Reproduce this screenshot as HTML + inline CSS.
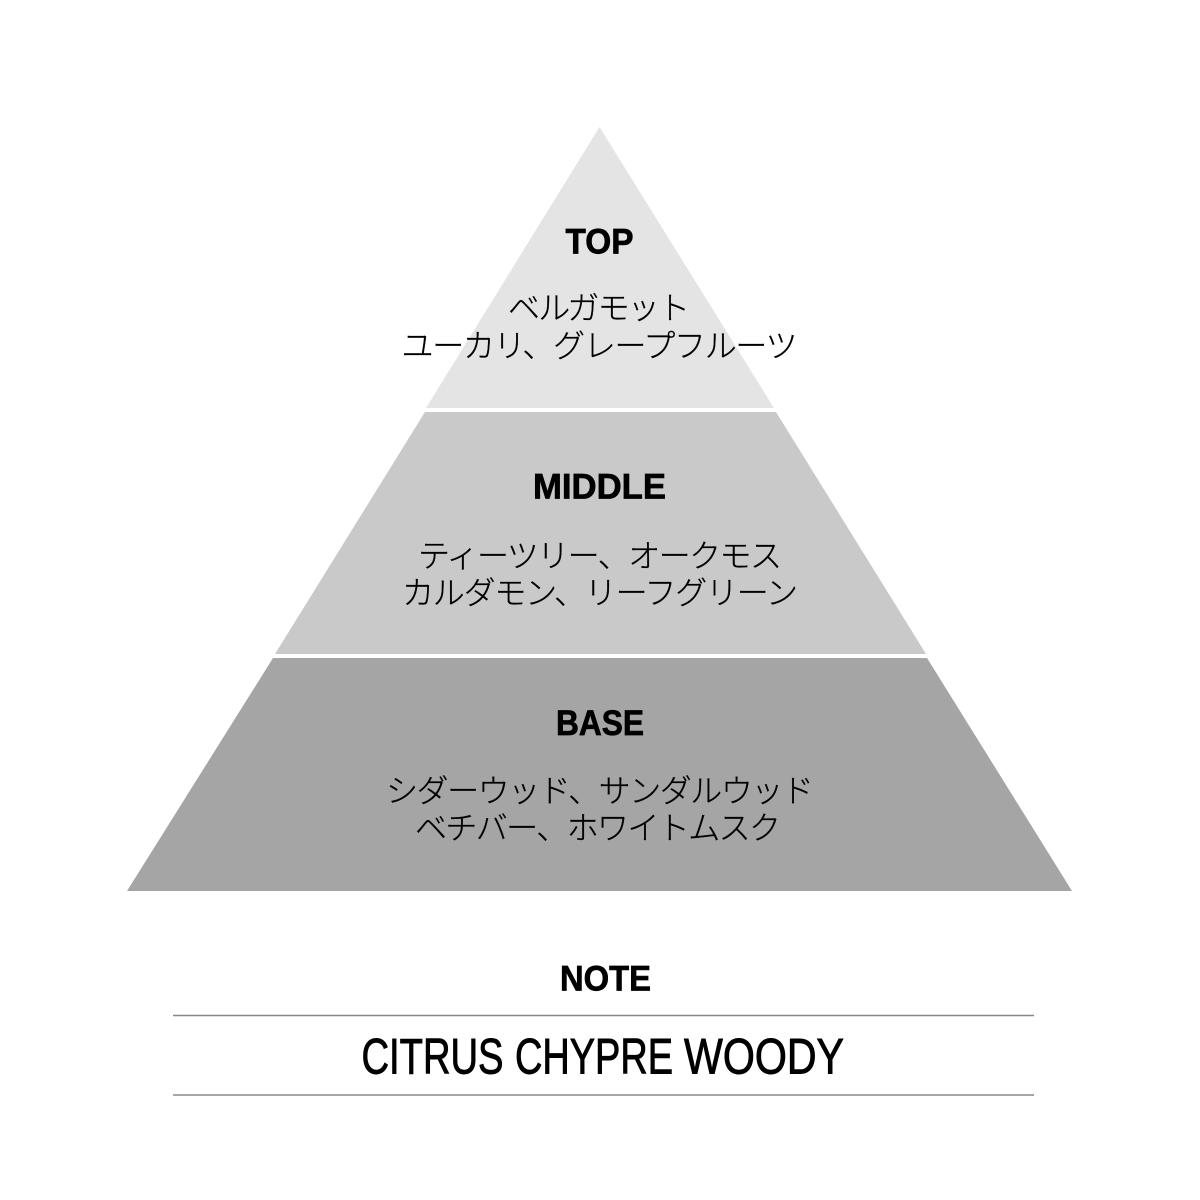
<!DOCTYPE html>
<html><head><meta charset="utf-8"><style>
html,body{margin:0;padding:0;background:#fff;width:1200px;height:1200px;overflow:hidden}
svg{display:block}
text{text-anchor:middle;fill:#000}
.h{font-family:"Liberation Sans",sans-serif;font-weight:700;font-size:35px;stroke:#000;stroke-width:.7}
.j{font-family:"Liberation Sans","Noto Sans CJK JP",sans-serif;font-size:32px;font-weight:300;fill:#000;stroke:#000;stroke-width:.25}
.c{font-family:"Liberation Sans",sans-serif;font-size:50px;font-weight:400;stroke:#000;stroke-width:.9}
</style></head><body>
<svg width="1200" height="1200" viewBox="0 0 1200 1200" xmlns="http://www.w3.org/2000/svg">
<rect width="1200" height="1200" fill="#fff"/>
<polygon points="599.5,127 774,408 426,408" fill="#e4e4e4"/>
<polygon points="425,412 776,412 926,654 275,654" fill="#c9c9c9"/>
<polygon points="273,658 927,658 1072,891 127,891" fill="#a5a5a5"/>
<text class="h" x="599.5" y="253.5" textLength="68" lengthAdjust="spacingAndGlyphs">TOP</text>
<text class="j" x="599" y="319" textLength="182">ベルガモット</text>
<text class="j" x="599.5" y="357" textLength="396">ユーカリ、グレープフルーツ</text>
<text class="h" x="599.5" y="498.5" textLength="133" lengthAdjust="spacingAndGlyphs">MIDDLE</text>
<text class="j" x="600" y="567" textLength="364">ティーツリー、オークモス</text>
<text class="j" x="600" y="604" textLength="396">カルダモン、リーフグリーン</text>
<text class="h" x="600" y="735" textLength="88" lengthAdjust="spacingAndGlyphs">BASE</text>
<text class="j" x="600" y="802" textLength="428">シダーウッド、サンダルウッド</text>
<text class="j" x="598" y="839" textLength="366">ベチバー、ホワイトムスク</text>
<text class="h" x="605.5" y="990.5" textLength="91" lengthAdjust="spacingAndGlyphs">NOTE</text>
<line x1="173" y1="1015.5" x2="1034" y2="1015.5" stroke="#888" stroke-width="1.5"/>
<text class="c" x="432.5" y="1073.5" textLength="142" lengthAdjust="spacingAndGlyphs">CITRUS</text>
<text class="c" x="594" y="1073.5" textLength="158" lengthAdjust="spacingAndGlyphs">CHYPRE</text>
<text class="c" x="764" y="1073.5" textLength="160" lengthAdjust="spacingAndGlyphs">WOODY</text>
<line x1="173" y1="1095" x2="1034" y2="1095" stroke="#888" stroke-width="1.5"/>
</svg>
</body></html>
